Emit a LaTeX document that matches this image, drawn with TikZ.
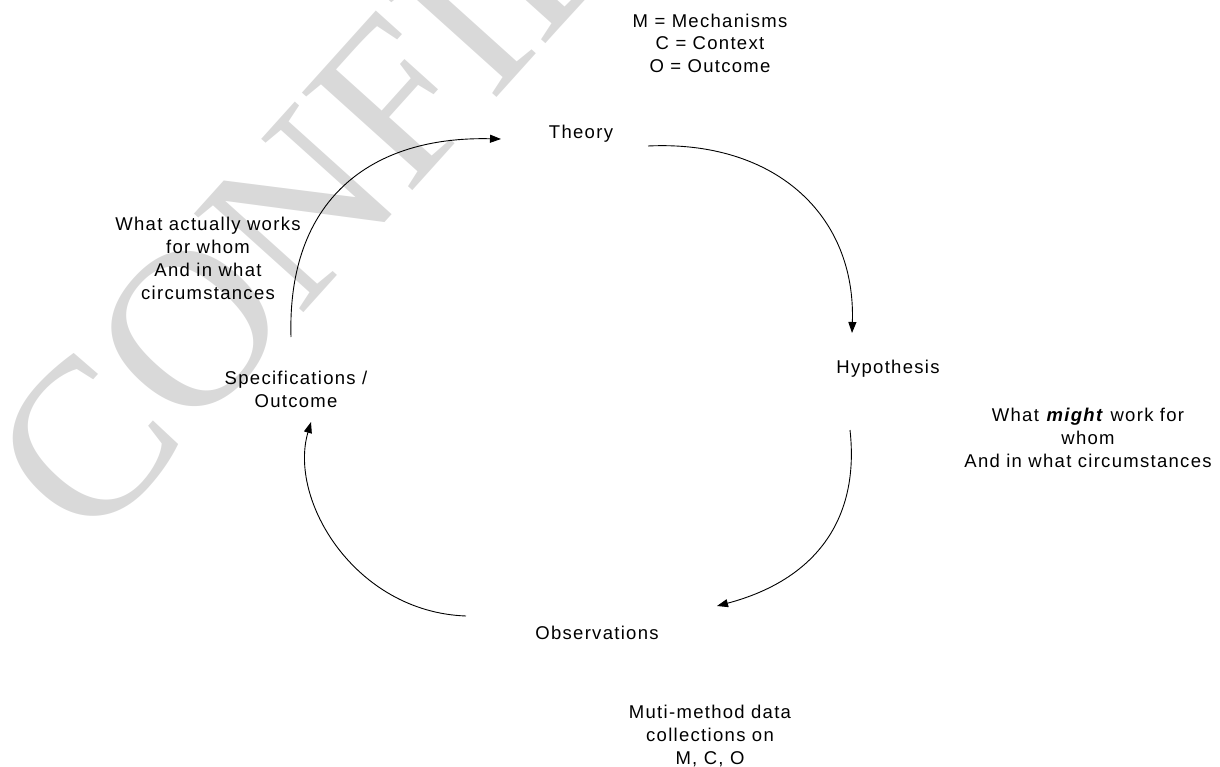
\documentclass[tikz,border=0pt]{standalone}
\usepackage{fontspec}
\setmainfont{Liberation Sans}[LetterSpace=7]
\newfontfamily\markfont{Liberation Serif}
\usetikzlibrary{arrows.meta}

\begin{document}
\begin{tikzpicture}[x=1pt,y=-1pt,
  lbl/.style={font=\fontsize{18.5}{22.7}\selectfont, align=center, inner sep=0pt, anchor=base},
  cyc/.style={line width=0.9pt, -{Triangle[length=11pt,width=8pt]}},
  watermark/.style={rotate=48, anchor=base west, inner sep=0pt, text=black!15,
    font=\markfont\fontsize{225}{225}\selectfont}]
\useasboundingbox (0,0) rectangle (1220,767);

% background watermark
\begin{scope}
  \clip (0,0) rectangle (1220,767);
  \node[watermark] (mark) at (90,550) {CONFIDENTIAL};
\end{scope}

% stages of the cycle (positions are the baselines of the last lines)
\node[lbl] (theory) at (581,139) {Theory};
\node[lbl] (hyp) at (888,373) {Hypothesis};
\node[lbl] (obs) at (597,639) {Observations};
\node[lbl] (spec) at (296,407) {Specifications /\\Outcome};

% notes
\node[lbl] (mco) at (710,72.7) {M = Mechanisms\\C = Context\\O = Outcome};
\node[lbl] (might) at (1088,467) {What \textbf{\textit{might}} work for\\whom\\And in what circumstances};
\node[lbl] (works) at (208,299) {What actually works\\for whom\\And in what\\circumstances};
\node[lbl] (muti) at (710,764) {Muti-method data\\collections on\\M, C, O};

% arc end points
\coordinate (specTop)   at (291,337);
\coordinate (theoryIn)  at (501,139);
\coordinate (theoryOut) at (648,146);
\coordinate (hypIn)     at (852,333);
\coordinate (hypOut)    at (850,430);
\coordinate (obsIn)     at (717,606);
\coordinate (obsOut)    at (466,616);
\coordinate (specIn)    at (311,422);

% cycle arrows
\draw[cyc] (specTop) .. controls (287,200) and (370,136) .. (theoryIn);
\draw[cyc] (theoryOut) .. controls (775,140) and (856,215) .. (hypIn);
\draw[cyc] (hypOut) .. controls (860,520) and (815,580) .. (obsIn);
\draw[cyc] (obsOut) .. controls (355,612) and (288,500) .. (specIn);
\end{tikzpicture}
\end{document}
